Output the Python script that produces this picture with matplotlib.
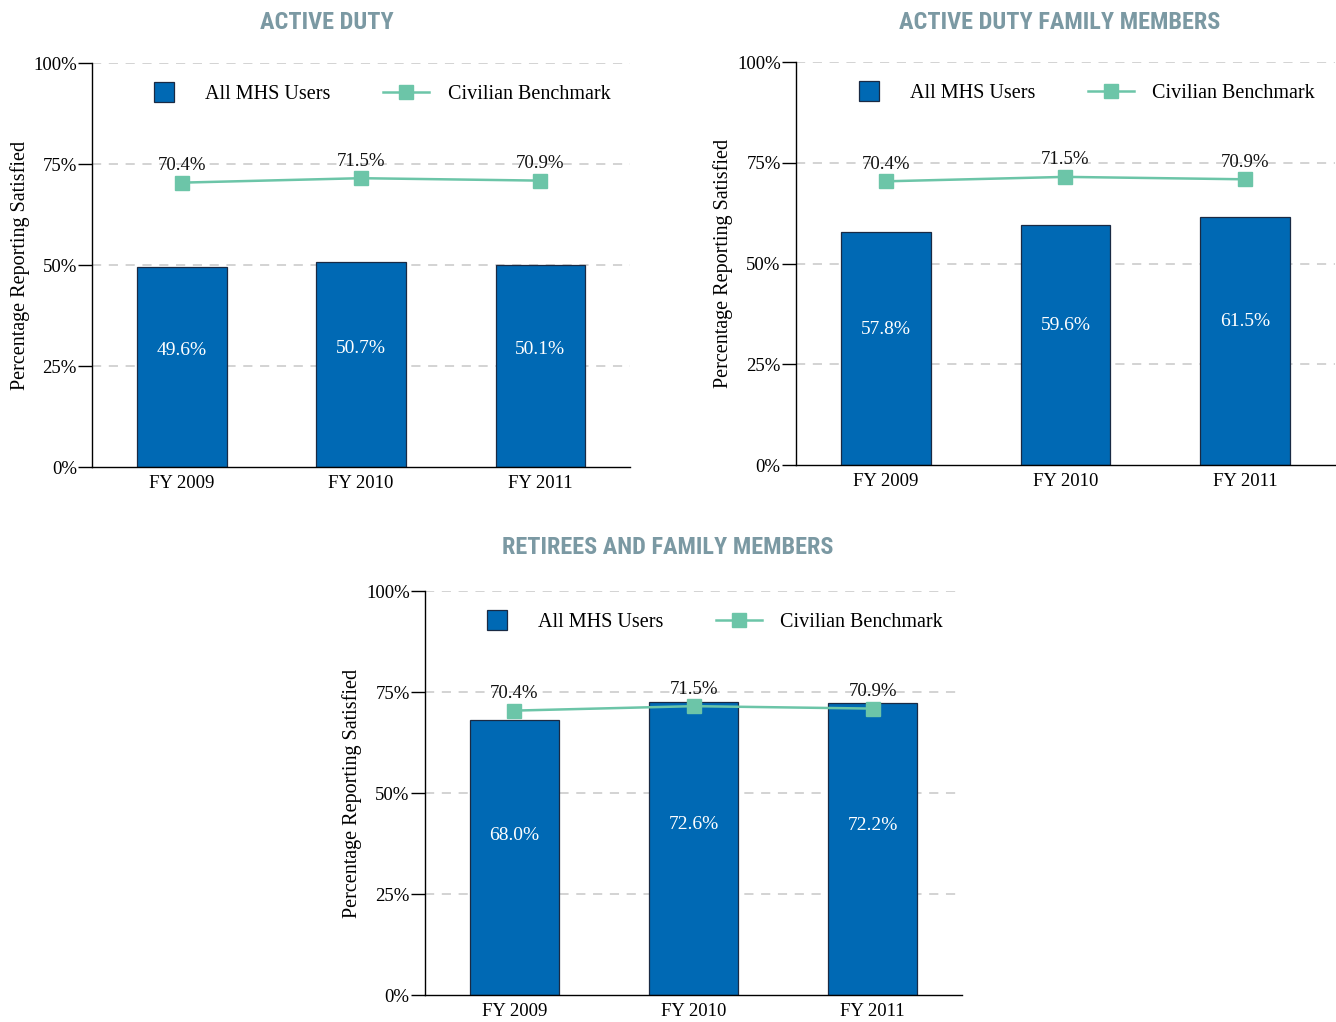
import numpy as np
import matplotlib
matplotlib.use("Agg")
import matplotlib.pyplot as plt
from matplotlib.lines import Line2D

# ---- data ---------------------------------------------------------------
years = ["FY 2009", "FY 2010", "FY 2011"]
titles = ["ACTIVE DUTY", "ACTIVE DUTY FAMILY MEMBERS", "RETIREES AND FAMILY MEMBERS"]
mhs_active = [49.6, 50.7, 50.1]
mhs_adfm = [57.8, 59.6, 61.5]
mhs_retirees = [68.0, 72.6, 72.2]
civilian = [70.4, 71.5, 70.9]

bar_color = "#0069b4"
edge_color = "#1a2a44"
line_color = "#6cc5a8"
title_color = "#7b99a3"

plt.rcParams['font.family'] = ['Liberation Serif', 'DejaVu Serif']

fig = plt.figure(figsize=(13.36, 10.22), dpi=100)

# axes rectangles (figure fraction) and title centres
rects = [
    [0.0689, 0.543, 0.4027, 0.3953],
    [0.5958, 0.545, 0.4034, 0.3943],
    [0.3181, 0.0264, 0.4020, 0.3953],
]
title_pos = [(0.2448, 0.9775), (0.7934, 0.9775), (0.5, 0.4638)]
series = [mhs_active, mhs_adfm, mhs_retirees]


def draw_panel(ax, mhs):
    x = np.arange(len(years))
    ax.set_xlim(-0.5, 2.5)
    ax.set_ylim(0, 100)
    for yv in [25, 50, 75, 100]:
        ax.axhline(yv, color='#c8c8c8', lw=1.1, ls=(0, (6, 5)), zorder=0)
    ax.bar(x, mhs, width=0.5, color=bar_color, edgecolor=edge_color, lw=0.9, zorder=2)
    ax.plot(x, civilian, color=line_color, lw=1.8, marker='s', ms=10,
            mec=line_color, zorder=3)
    for xi, v in zip(x, mhs):
        ax.text(xi, v * 0.58, f"{v:.1f}%", ha='center', va='center',
                color='white', fontsize=14, zorder=4)
    for xi, v in zip(x, civilian):
        ax.text(xi, v + 4.2, f"{v:.1f}%", ha='center', va='center',
                color='#111111', fontsize=13.5, zorder=4)

    ax.set_xticks(x)
    ax.set_xticklabels(years, fontsize=13.5)
    ax.tick_params(axis='x', length=0, pad=6)
    ax.set_yticks([0, 25, 50, 75, 100])
    ax.set_yticklabels(["0%", "25%", "50%", "75%", "100%"], fontsize=13.5)
    ax.tick_params(axis='y', length=10, width=1, pad=1, direction='out')
    for s in ['top', 'right']:
        ax.spines[s].set_visible(False)
    ax.spines['left'].set_linewidth(1)
    ax.spines['bottom'].set_linewidth(1)
    ax.set_ylabel("Percentage Reporting Satisfied", fontsize=14.5, labelpad=2.5)

    handles = [
        Line2D([], [], ls='none', marker='s', ms=14, mfc=bar_color,
               mec=edge_color, mew=0.9),
        Line2D([], [], color=line_color, lw=1.8, marker='s', ms=10, mec=line_color),
    ]
    ax.legend(handles, ["All MHS Users", "Civilian Benchmark"], ncol=2,
              loc='center', bbox_to_anchor=(0.527, 0.923), frameon=False,
              fontsize=14.5, handlelength=2.3, columnspacing=2.6,
              handletextpad=0.9)


for rect, (tx, ty), title, mhs in zip(rects, title_pos, titles, series):
    ax = fig.add_axes(rect)
    draw_panel(ax, mhs)
    fig.text(tx, ty, title, ha='center', va='center',
             fontsize=17.5, fontweight='bold', color=title_color,
             family=['Roboto Condensed', 'Liberation Sans Narrow', 'Roboto',
                     'DejaVu Sans'])

fig.savefig("out.png", dpi=100)
